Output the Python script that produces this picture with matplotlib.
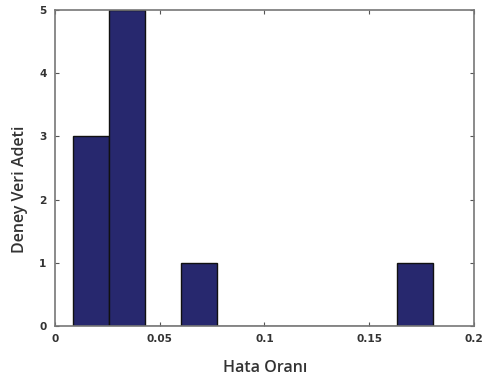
import numpy as np
import matplotlib.pyplot as plt

# histogram
bin_edges = [0.0085, 0.0257, 0.0429, 0.0601, 0.0774, 0.0946,
             0.1118, 0.1290, 0.1462, 0.1634, 0.1806]
counts = [3, 5, 0, 1, 0, 0, 0, 0, 0, 1]
x_ticks = [0, 0.05, 0.1, 0.15, 0.2]
x_tick_labels = ["0", "0.05", "0.1", "0.15", "0.2"]
y_ticks = [0, 1, 2, 3, 4, 5]

fig = plt.figure(figsize=(4.88, 3.77), dpi=100)
ax = fig.add_axes([0.1127, 0.1353, 0.8586, 0.8382])

edges = np.array(bin_edges)
ax.bar(edges[:-1], counts, width=np.diff(edges), align="edge",
       color="#27286e", edgecolor="#111111", linewidth=1.0)

ax.set_xlim(0, 0.2)
ax.set_ylim(0, 5)
ax.set_xticks(x_ticks)
ax.set_xticklabels(x_tick_labels)
ax.set_yticks(y_ticks)
ax.tick_params(direction="in", top=True, right=True, length=3,
               color="#555555", labelsize=7.6, labelcolor="#333333", pad=6)
for lab in ax.get_xticklabels() + ax.get_yticklabels():
    lab.set_fontweight("bold")
for s in ax.spines.values():
    s.set_color("#777777")
    s.set_linewidth(1.2)

fig.text(0.543, 0.024, "Hata Oranı", ha="center", va="center",
         fontsize=11.5, color="#333333", family="Open Sans", fontweight="semibold")
fig.text(0.041, 0.497, "Deney Veri Adeti", ha="center", va="center",
         rotation=90, fontsize=11.5, color="#333333", family="Open Sans",
         fontweight="semibold")

fig.savefig("out.png", dpi=100)
